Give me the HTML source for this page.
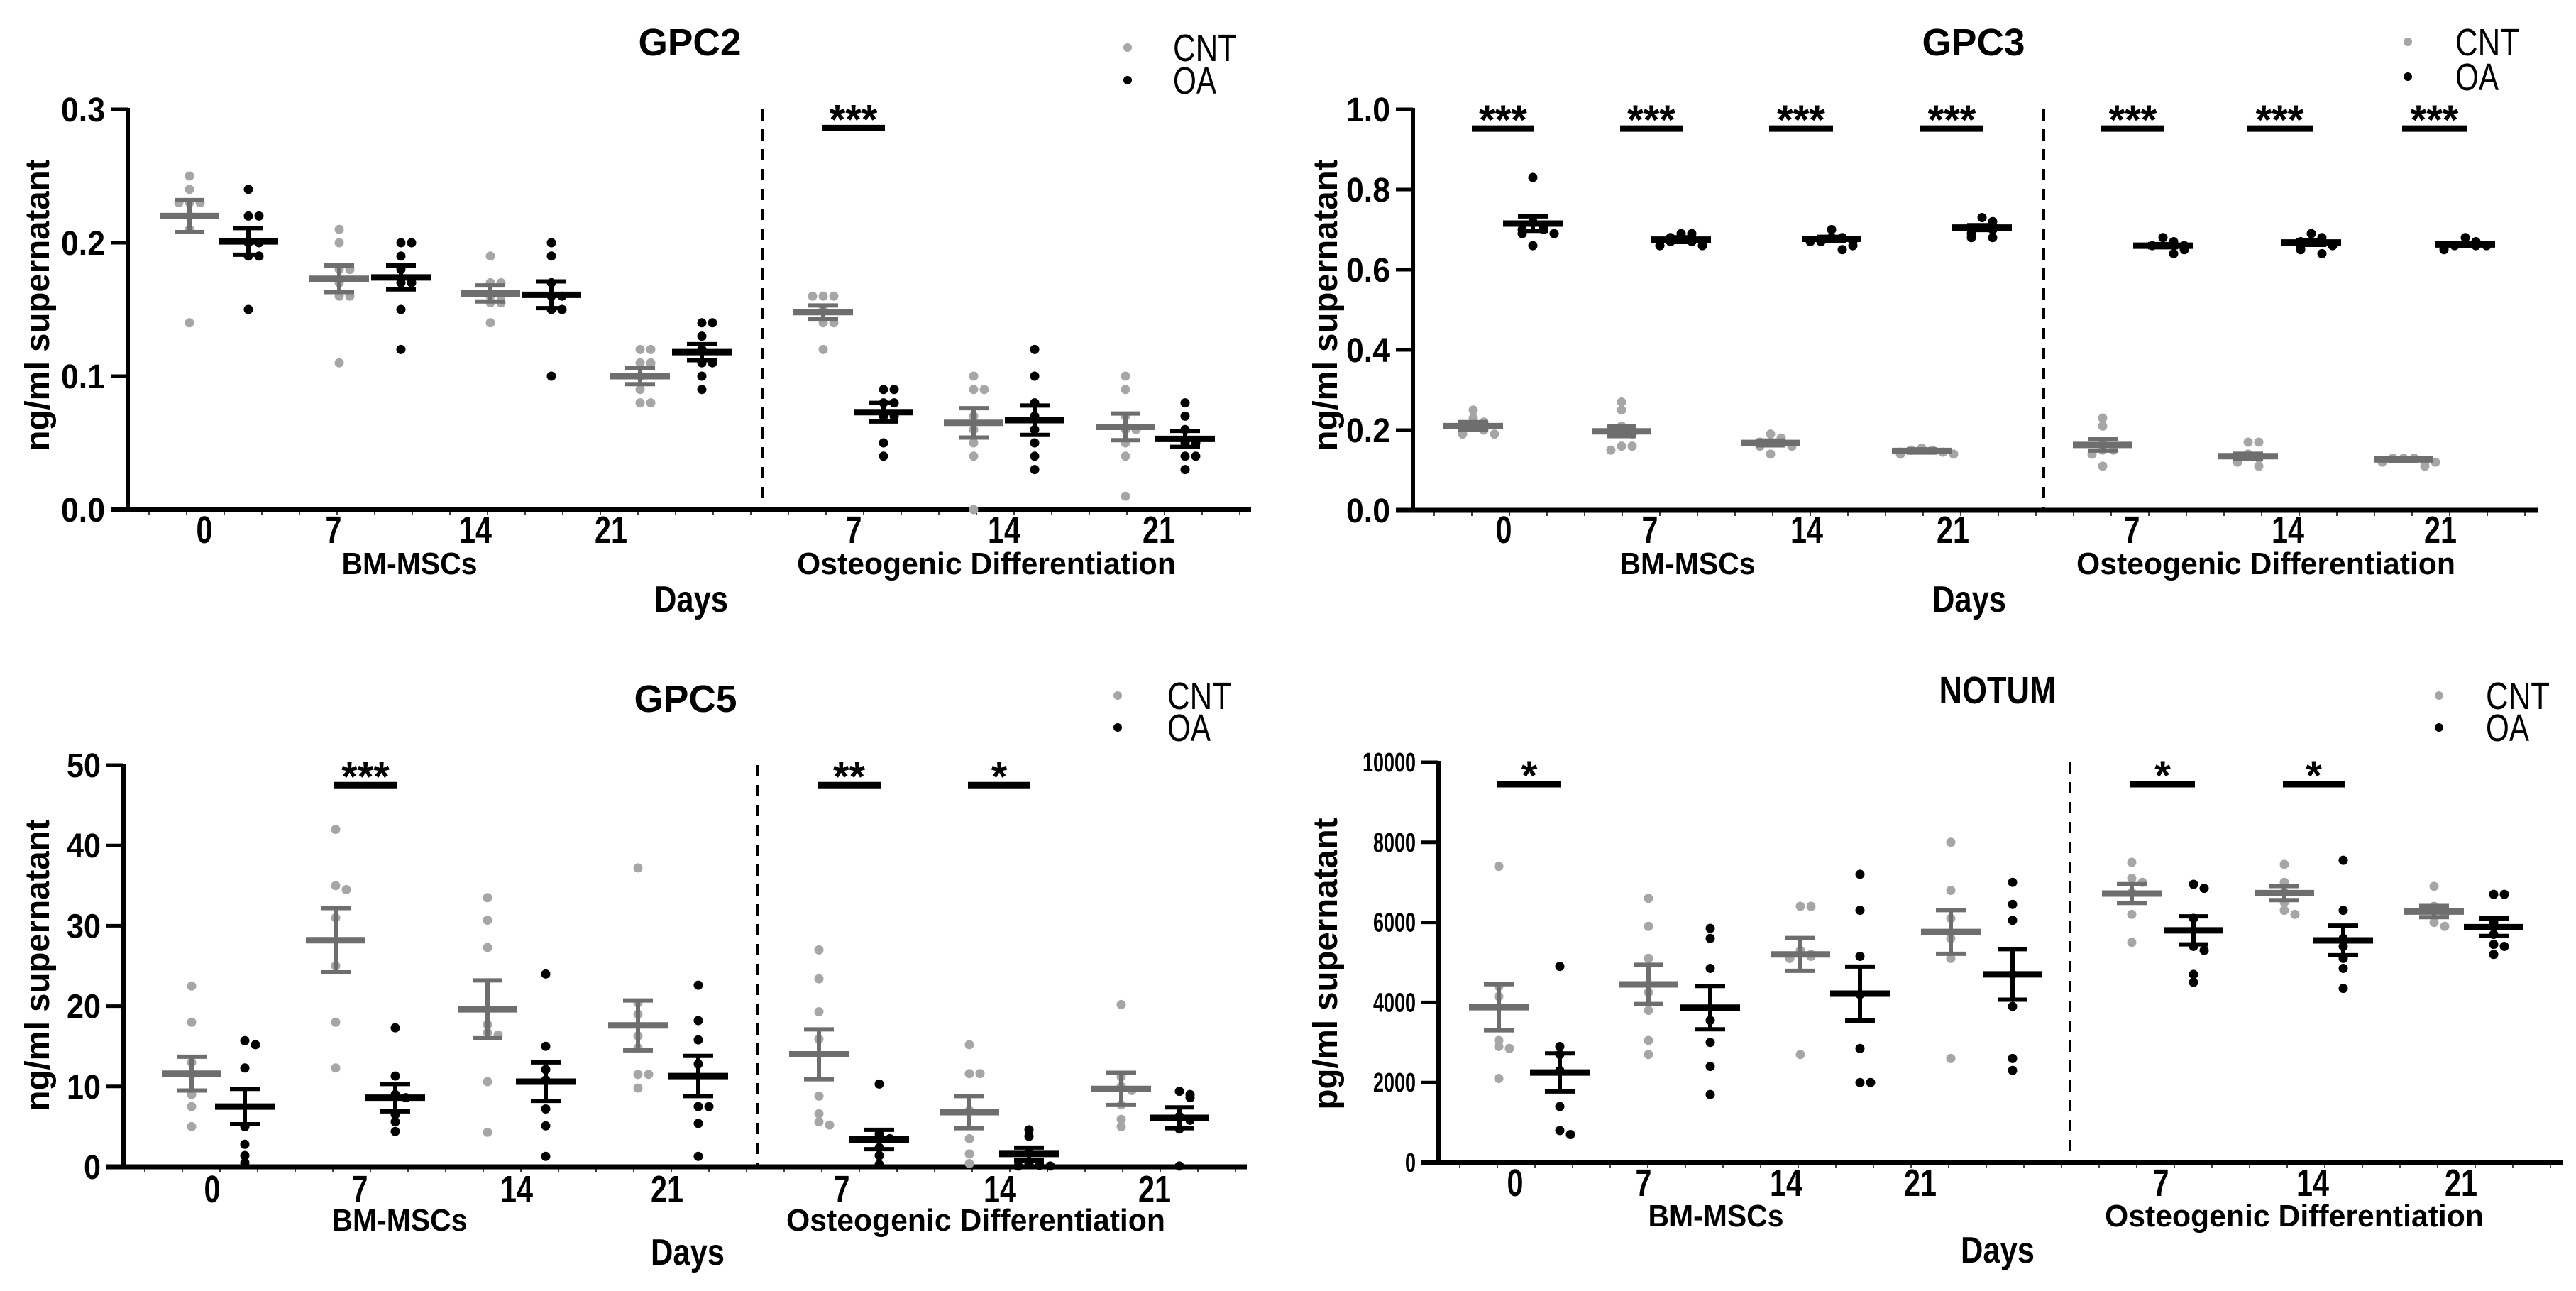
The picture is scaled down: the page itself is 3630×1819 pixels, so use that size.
<!DOCTYPE html>
<html><head><meta charset="utf-8">
<style>
html,body{margin:0;padding:0;background:#fff;}
svg{display:block;}
text{font-family:"Liberation Sans Narrow","Liberation Sans",sans-serif;}
.yt{font-family:"Liberation Sans",sans-serif;font-weight:bold;}
</style></head>
<body>
<svg id="fig" width="3630" height="1819" viewBox="0 0 3630 1819" xmlns="http://www.w3.org/2000/svg"></svg>
<script>
// ---------- DATA ----------
const categories = ["0","7","14","21","7","14","21"];
const groupNames = ["BM-MSCs","Osteogenic Differentiation"];

// GPC2
const gpc2Ticks = [0,0.1,0.2,0.3];
const gpc2TickLabels = ["0.0","0.1","0.2","0.3"];
const gpc2CntMean = [0.220,0.173,0.162,0.100,0.148,0.065,0.062];
const gpc2CntSem  = [0.012,0.010,0.006,0.006,0.005,0.011,0.010];
const gpc2OaMean  = [0.201,0.174,0.161,0.118,0.073,0.067,0.053];
const gpc2OaSem   = [0.010,0.009,0.010,0.006,0.007,0.011,0.006];
const gpc2CntPts = [[0.25,0.24,0.23,0.23,0.23,0.22,0.21,0.14],[0.21,0.20,0.18,0.18,0.17,0.16,0.16,0.11],[0.19,0.17,0.17,0.16,0.16,0.155,0.155,0.14],[0.12,0.12,0.11,0.11,0.10,0.09,0.08,0.08],[0.16,0.16,0.16,0.15,0.14,0.14,0.12],[0.10,0.09,0.09,0.07,0.06,0.05,0.04,0.0],[0.10,0.09,0.07,0.06,0.06,0.05,0.04,0.01]];
const gpc2OaPts = [[0.24,0.22,0.22,0.20,0.20,0.19,0.19,0.15],[0.20,0.20,0.19,0.18,0.17,0.17,0.15,0.12],[0.20,0.19,0.17,0.16,0.16,0.15,0.15,0.10],[0.14,0.14,0.13,0.12,0.11,0.11,0.10,0.09],[0.09,0.09,0.08,0.08,0.07,0.07,0.05,0.04],[0.12,0.10,0.08,0.07,0.06,0.05,0.04,0.03],[0.08,0.07,0.06,0.05,0.05,0.04,0.04,0.03]];
const gpc2Sig = ["","","","","***","",""];

// GPC3
const gpc3Ticks = [0,0.2,0.4,0.6,0.8,1.0];
const gpc3TickLabels = ["0.0","0.2","0.4","0.6","0.8","1.0"];
const gpc3CntMean = [0.210,0.197,0.168,0.148,0.163,0.135,0.127];
const gpc3CntSem  = [0.010,0.012,0.006,0.004,0.014,0.006,0.004];
const gpc3OaMean  = [0.715,0.675,0.677,0.705,0.660,0.668,0.663];
const gpc3OaSem   = [0.018,0.006,0.005,0.006,0.004,0.006,0.003];
const gpc3CntPts = [[0.25,0.23,0.22,0.21,0.20,0.20,0.19,0.19],[0.27,0.25,0.21,0.20,0.19,0.16,0.16,0.15],[0.19,0.18,0.17,0.17,0.16,0.16,0.14],[0.155,0.15,0.15,0.145,0.145,0.14,0.14],[0.23,0.21,0.17,0.15,0.15,0.14,0.11],[0.17,0.17,0.14,0.13,0.13,0.12,0.11],[0.13,0.13,0.13,0.12,0.12,0.12,0.11]];
const gpc3OaPts = [[0.83,0.72,0.71,0.70,0.70,0.69,0.69,0.66],[0.69,0.69,0.68,0.67,0.67,0.67,0.66,0.66],[0.70,0.68,0.68,0.67,0.67,0.67,0.66,0.65],[0.73,0.72,0.71,0.70,0.70,0.69,0.68,0.68],[0.68,0.67,0.66,0.66,0.66,0.65,0.64],[0.69,0.68,0.67,0.67,0.66,0.66,0.65,0.64],[0.68,0.67,0.66,0.66,0.66,0.66,0.65]];
const gpc3Sig = ["***","***","***","***","***","***","***"];

// GPC5
const gpc5Ticks = [0,10,20,30,40,50];
const gpc5TickLabels = ["0","10","20","30","40","50"];
const gpc5CntMean = [11.6,28.2,19.6,17.6,14.0,6.8,9.7];
const gpc5CntSem  = [2.1,4.0,3.6,3.1,3.1,2.0,2.0];
const gpc5OaMean  = [7.5,8.6,10.6,11.3,3.4,1.6,6.1];
const gpc5OaSem   = [2.2,1.7,2.4,2.5,1.2,0.8,1.3];
const gpc5CntPts = [[22.5,18,13,11.5,9,7.5,5],[42,35,34.5,31,25,18,12.3],[33.5,30.7,27.3,17.7,16.7,16.4,10.6,4.3],[37.2,20.4,19,16.3,14.8,11.5,11.5,9.8],[27,23.4,19.3,15.9,8.8,6.6,5.6,5.2],[15.2,11.6,11.6,7.0,3.5,1.6,0.4],[20.2,11.2,10,9.5,7.7,5.9,5]];
const gpc5OaPts = [[15.7,15.2,12.3,5,2.8,1.4,0.5],[17.3,11.3,9,8.6,6.5,5.6,4.4],[24,15,12.1,10.8,7.2,5.1,1.3],[22.6,18.2,15.8,12.8,7.5,7.5,5.4,1.3],[10.3,4.1,3.5,2.4,1.4,0.3],[4.6,3.8,1.8,0.3,0.2,0.1,0.1],[9.4,9.0,8.6,6.3,5.8,4.7,0.1]];
const gpc5Sig = ["","***","","","**","*",""];

// NOTUM
const notumTicks = [0,2000,4000,6000,8000,10000];
const notumTickLabels = ["0","2000","4000","6000","8000","10000"];
const notumCntMean = [3880,4450,5200,5760,6720,6730,6270];
const notumCntSem  = [575,490,410,545,235,175,140];
const notumOaMean  = [2250,3870,4220,4700,5800,5550,5880];
const notumOaSem   = [475,540,675,630,350,370,220];
const notumCntPts = [[7400,4400,4150,3050,2900,2850,2100],[6600,5900,5100,4250,3800,3050,2700],[6400,6400,5300,5200,5150,5100,2700],[8000,6800,6100,5600,5100,2600],[7500,7100,7000,6750,6200,5500],[7450,7000,6750,6500,6300,6200],[6900,6400,6300,6200,6000,5900]];
const notumOaPts = [[4900,2900,2700,2300,1400,800,700],[5850,5600,4850,3550,3000,2400,1700],[7200,6300,5150,4200,2850,2000,2000],[7000,6450,6050,4700,3900,2600,2300],[6950,6850,6100,5400,5300,4700,4500],[7550,6300,5600,5400,5100,4850,4350],[6700,6700,6000,5700,5450,5400,5200]];
const notumSig = ["*","","","","*","*",""];

// ---------- LAYOUT ----------
const NS = "http://www.w3.org/2000/svg";
const svg = document.getElementById('fig');
function mk(tag, attrs, parent){const e=document.createElementNS(NS,tag);for(const k in attrs)e.setAttribute(k,attrs[k]);(parent||svg).appendChild(e);return e;}

const panels = [
 {id:"gpc2",title:"GPC2",yLabel:"ng/ml supernatant",ticks:gpc2Ticks,tickLabels:gpc2TickLabels,yMax:0.3,sigVal:0.286,
  cm:gpc2CntMean,cs:gpc2CntSem,om:gpc2OaMean,os:gpc2OaSem,cp:gpc2CntPts,op:gpc2OaPts,sig:gpc2Sig,
  L:{ax:180,ar:1763,yt:154,yb:718,dash:1075,cntX:[267,478,691,902,1160,1372,1586],oaX:[350,565,777,989,1245,1458,1670],labX:[288,470,670,861,1203,1415,1633],
     titleX:972,titleY:60,legX:1589,legY1:67,legY2:113,legTX:1653,bmX:577,osX:1390,daysX:974,catY:746,grpY:794,daysY:845,ytX:52,ytY:430}},
 {id:"gpc3",title:"GPC3",yLabel:"ng/ml supernatant",ticks:gpc3Ticks,tickLabels:gpc3TickLabels,yMax:1.0,sigVal:0.952,
  cm:gpc3CntMean,cs:gpc3CntSem,om:gpc3OaMean,os:gpc3OaSem,cp:gpc3CntPts,op:gpc3OaPts,sig:gpc3Sig,
  L:{ax:1991,ar:3576,yt:154,yb:719,dash:2880,cntX:[2076,2285,2495,2708,2963,3168,3387],oaX:[2160,2369,2581,2793,3048,3257,3474],labX:[2119,2325,2546,2752,3004,3224,3439],
     titleX:2781,titleY:60,legX:3393,legY1:59,legY2:108,legTX:3460,bmX:2378,osX:3193,daysX:2775,catY:746,grpY:794,daysY:845,ytX:1867,ytY:430}},
 {id:"gpc5",title:"GPC5",yLabel:"ng/ml supernatant",ticks:gpc5Ticks,tickLabels:gpc5TickLabels,yMax:50,sigVal:47.5,
  cm:gpc5CntMean,cs:gpc5CntSem,om:gpc5OaMean,os:gpc5OaSem,cp:gpc5CntPts,op:gpc5OaPts,sig:gpc5Sig,
  L:{ax:174,ar:1757,yt:1078,yb:1644,dash:1067,cntX:[270,473,687,899,1154,1366,1580],oaX:[345,557,769,984,1239,1450,1662],labX:[299,507,728,940,1186,1409,1627],
     titleX:966,titleY:985,legX:1575,legY1:980,legY2:1025,legTX:1645,bmX:563,osX:1375,daysX:969,catY:1675,grpY:1719,daysY:1765,ytX:52,ytY:1360}},
 {id:"notum",title:"NOTUM",yLabel:"pg/ml supernatant",ticks:notumTicks,tickLabels:notumTickLabels,yMax:10000,sigVal:9450,small:true,
  cm:notumCntMean,cs:notumCntSem,om:notumOaMean,os:notumOaSem,cp:notumCntPts,op:notumOaPts,sig:notumSig,
  L:{ax:2027,ar:3611,yt:1074,yb:1638,dash:2917,cntX:[2112,2323,2537,2749,3004,3219,3430],oaX:[2198,2410,2621,2836,3091,3302,3514],labX:[2135,2316,2517,2706,3045,3259,3468],
     titleX:2815,titleY:973,legX:3437,legY1:980,legY2:1025,legTX:3503,bmX:2418,osX:3233,daysX:2815,catY:1666,grpY:1713,daysY:1762,ytX:1867,ytY:1358}}
];

const CNT_PT="#a6a6a6", CNT_BAR="#6e6e6e", OA="#000";

function drawPanel(p){
  const L=p.L;
  const g=mk('g',{});
  
  
  const y=v=>L.yb-(v/p.yMax)*(L.yb-L.yt);

  const t=mk('text',{x:L.titleX,y:L.titleY+18,'text-anchor':'middle','font-size':54,'font-weight':'bold',textLength:145,lengthAdjust:'spacingAndGlyphs'},g);
  t.textContent=p.title;
  
  
  if(p.title==="NOTUM"){t.setAttribute('textLength',165);}

  const lg=mk('g',{},g);
  
  
  mk('circle',{cx:L.legX,cy:L.legY1,r:6,fill:CNT_PT},lg);
  mk('circle',{cx:L.legX,cy:L.legY2,r:6,fill:OA},lg);
  const l1=mk('text',{x:L.legTX,y:L.legY1+19,'font-size':54,textLength:90,lengthAdjust:'spacingAndGlyphs'},lg);l1.textContent="CNT";
  const l2=mk('text',{x:L.legTX,y:L.legY2+19,'font-size':54,textLength:61,lengthAdjust:'spacingAndGlyphs'},lg);l2.textContent="OA";

  const ya=mk('line',{x1:L.ax,y1:L.yt-2,x2:L.ax,y2:L.yb,stroke:'#000','stroke-width':6},g);
  
  
  p.ticks.forEach((v,i)=>{
    const ty=y(v);
    mk('line',{x1:L.ax-24,y1:ty,x2:L.ax,y2:ty,stroke:'#000','stroke-width':5},g);
    const lab=p.tickLabels[i];
    const w=p.small?lab.length*15:(lab.indexOf('.')>=0?62:lab.length*24);
    const tl=mk('text',{x:L.ax-32,y:ty+(p.small?13:17),'text-anchor':'end','font-size':p.small?38:48,'font-weight':'bold',textLength:w,lengthAdjust:'spacingAndGlyphs'},g);
    tl.textContent=lab;
    
    
  });
  const xa=mk('line',{x1:L.ax-24,y1:L.yb,x2:L.ar,y2:L.yb,stroke:'#000','stroke-width':7},g);
  
  
  for(let x=L.ax+30;x<L.ar;x+=53){mk('line',{x1:x,y1:L.yb+3,x2:x,y2:L.yb+8,stroke:'#000','stroke-width':1.5},g);}
  const dl=mk('line',{x1:L.dash,y1:L.yt,x2:L.dash,y2:L.yb,stroke:'#000','stroke-width':4,'stroke-dasharray':'16 12'},g);
  
  

  categories.forEach((c,i)=>{
    const cl=mk('text',{x:L.labX[i],y:L.catY+19,'text-anchor':'middle','font-size':54,'font-weight':'bold',textLength:c.length*23,lengthAdjust:'spacingAndGlyphs'},g);
    cl.textContent=c;
    
    
  });
  const bm=mk('text',{x:L.bmX,y:L.grpY+15,'text-anchor':'middle','font-size':44,'font-weight':'bold',textLength:191,lengthAdjust:'spacingAndGlyphs'},g);
  bm.textContent=groupNames[0];
  
  
  const os=mk('text',{x:L.osX,y:L.grpY+15,'text-anchor':'middle','font-size':44,'font-weight':'bold',textLength:534,lengthAdjust:'spacingAndGlyphs'},g);
  os.textContent=groupNames[1];
  
  
  const dy=mk('text',{x:L.daysX,y:L.daysY+17,'text-anchor':'middle','font-size':52,'font-weight':'bold',textLength:104,lengthAdjust:'spacingAndGlyphs'},g);
  dy.textContent="Days";
  
  
  const yt=mk('text',{x:0,y:0,class:'yt','text-anchor':'middle','font-size':48,textLength:411,lengthAdjust:'spacingAndGlyphs',transform:`translate(${L.ytX+17},${L.ytY}) rotate(-90)`},g);
  yt.textContent=p.yLabel;
  
  

  function pts(arr,xc,color,name){
    const placed=[];
    const thr=p.yMax*0.012;
    arr.forEach(v=>{
      const k=placed.filter(u=>Math.abs(u-v)<thr).length;
      placed.push(v);
      const off=(k===0)?0:((k%2?1:-1)*Math.ceil(k/2)*15);
      const c=mk('circle',{cx:xc+off,cy:y(v),r:6.5,fill:color},g);
      
      
    });
  }
  function meanErr(m,s,xc,color,name){
    const e=mk('g',{},g);
    
    
    mk('line',{x1:xc,y1:y(m+s),x2:xc,y2:y(m-s),stroke:color,'stroke-width':6},e);
    mk('line',{x1:xc-21,y1:y(m+s),x2:xc+21,y2:y(m+s),stroke:color,'stroke-width':6},e);
    mk('line',{x1:xc-21,y1:y(m-s),x2:xc+21,y2:y(m-s),stroke:color,'stroke-width':6},e);
    mk('line',{x1:xc-42,y1:y(m),x2:xc+42,y2:y(m),stroke:color,'stroke-width':9},e);
  }
  categories.forEach((c,i)=>{
    pts(p.cp[i],L.cntX[i],CNT_PT,'cnt-point');
    pts(p.op[i],L.oaX[i],OA,'oa-point');
    meanErr(p.cm[i],p.cs[i],L.cntX[i],CNT_BAR,'cnt-mean-sem');
    meanErr(p.om[i],p.os[i],L.oaX[i],OA,'oa-mean-sem');
    if(p.sig[i]){
      const sy=y(p.sigVal);
      const sb=mk('line',{x1:L.cntX[i]-2,y1:sy,x2:L.oaX[i]+2,y2:sy,stroke:'#000','stroke-width':9},g);
      
      
      const st=mk('text',{x:(L.cntX[i]+L.oaX[i])/2,y:sy+8,'text-anchor':'middle','font-size':58,'font-weight':'bold'},g);
      st.textContent=p.sig[i];
      
      
    }
  });
}
panels.forEach(drawPanel);
</script>
</body></html>
